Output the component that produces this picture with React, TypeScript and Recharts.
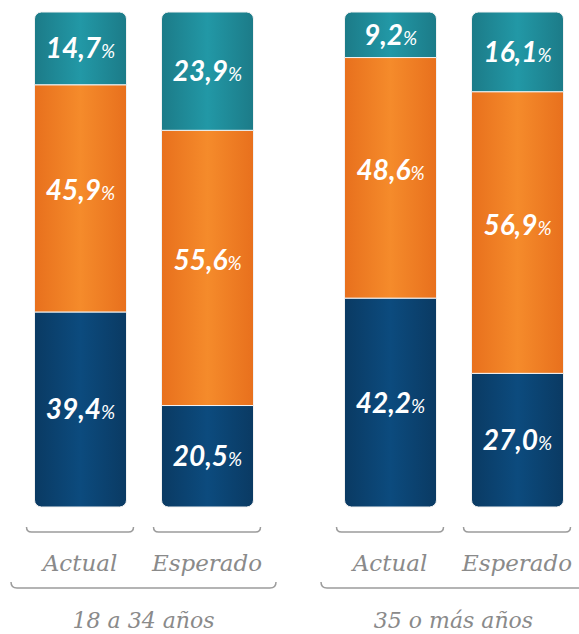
import React from "react";
import { BarChart, Bar, XAxis, YAxis, LabelList } from "recharts";

const groups = ["18 a 34 años", "35 o más años"];
const periods = ["Actual", "Esperado"];
const navyValues = [39.4, 20.5, 42.2, 27.0];
const orangeValues = [45.9, 55.6, 48.6, 56.9];
const tealValues = [14.7, 23.9, 9.2, 16.1];

const groupData = (g: number) =>
  periods.map((p, i) => ({
    period: p,
    navy: navyValues[g * 2 + i],
    orange: orangeValues[g * 2 + i],
    teal: tealValues[g * 2 + i],
  }));

const fmt = (v: number) => v.toFixed(1).replace(".", ",");

const makeValueLabel = (shift: number) => (props: any) => {
  const { x, y, width, height, value } = props;
  const cx = Number(x) + Number(width) / 2;
  const cy = Number(y) + Number(height) / 2;
  return (
    <text
      x={cx}
      y={cy + 10 + shift}
      textAnchor="middle"
      fill="#ffffff"
      fontFamily="Lato, 'Open Sans', sans-serif"
      fontStyle="italic"
    >
      <tspan fontWeight={700} fontSize={28}>
        {fmt(Number(value))}
      </tspan>
      <tspan fontWeight={400} fontSize={19}>
        %
      </tspan>
    </text>
  );
};

const GREY_TEXT = "#8a8a8a";
const GREY_LINE = "#9c9c9c";

const bracketPath = (x0: number, x1: number, yb: number, h: number) =>
  `M${x0},${yb - h} Q${x0},${yb} ${x0 + h},${yb} L${x1 - h},${yb} Q${x1},${yb} ${x1},${yb - h}`;

const PeriodTick = (props: any) => {
  const { x, y, payload } = props;
  const half = 53.5;
  return (
    <g>
      <path
        d={bracketPath(x - half, x + half, y + 25, 5)}
        fill="none"
        stroke={GREY_LINE}
        strokeWidth={1.5}
      />
      <text
        x={x}
        y={y + 64}
        textAnchor="middle"
        fill={GREY_TEXT}
        fontFamily="'DejaVu Serif', serif"
        fontStyle="italic"
        fontSize={23}
      >
        {payload.value}
      </text>
    </g>
  );
};

const makeGroupLabel = (label: string) => (props: any) => {
  const vb = props.viewBox || {};
  const x0 = vb.x - 5.5;
  const x1 = vb.x + vb.width + 5.5;
  const y = vb.y;
  const cx = (x0 + x1) / 2;
  return (
    <g>
      <path
        d={bracketPath(x0, x1, y + 81, 6)}
        fill="none"
        stroke={GREY_LINE}
        strokeWidth={1.5}
      />
      <text
        x={cx}
        y={y + 121}
        textAnchor="middle"
        fill={GREY_TEXT}
        fontFamily="'DejaVu Serif', serif"
        fontStyle="italic"
        fontSize={22}
      >
        {label}
      </text>
    </g>
  );
};

const Gradients = () => (
  <defs>
    <linearGradient id="gTeal" x1="0" y1="0" x2="1" y2="0">
      <stop offset="0%" stopColor="#1c7b88" />
      <stop offset="50%" stopColor="#2298a6" />
      <stop offset="100%" stopColor="#1c7b88" />
    </linearGradient>
    <linearGradient id="gOrange" x1="0" y1="0" x2="1" y2="0">
      <stop offset="0%" stopColor="#e8701d" />
      <stop offset="50%" stopColor="#f58b2b" />
      <stop offset="100%" stopColor="#e8701d" />
    </linearGradient>
    <linearGradient id="gNavy" x1="0" y1="0" x2="1" y2="0">
      <stop offset="0%" stopColor="#0a3a63" />
      <stop offset="50%" stopColor="#0c4b7e" />
      <stop offset="100%" stopColor="#0a3a63" />
    </linearGradient>
  </defs>
);

const GroupChart = ({
  g,
  left,
  width,
  marginLeft,
  marginRight,
}: {
  g: number;
  left: number;
  width: number;
  marginLeft: number;
  marginRight: number;
}) => (
  <div style={{ position: "absolute", left, top: 0, width, height: 634 }}>
    <BarChart
      width={width}
      height={634}
      data={groupData(g)}
      margin={{ top: 12, left: marginLeft, right: marginRight, bottom: 0 }}
      barSize={92}
    >
      <Gradients />
      <YAxis hide domain={[0, 100]} />
      <XAxis
        dataKey="period"
        height={127}
        axisLine={false}
        tickLine={false}
        tickSize={0}
        tickMargin={0}
        interval={0}
        tick={<PeriodTick />}
        label={{ value: groups[g], content: makeGroupLabel(groups[g]) }}
      />
      <Bar
        dataKey="navy"
        stackId="s"
        fill="url(#gNavy)"
        stroke="#f2f2f2"
        strokeWidth={1}
        radius={[0, 0, 7, 7]}
        isAnimationActive={false}
      >
        <LabelList dataKey="navy" content={makeValueLabel(0)} />
      </Bar>
      <Bar
        dataKey="orange"
        stackId="s"
        fill="url(#gOrange)"
        stroke="#f2f2f2"
        strokeWidth={1}
        isAnimationActive={false}
      >
        <LabelList dataKey="orange" content={makeValueLabel(-8)} />
      </Bar>
      <Bar
        dataKey="teal"
        stackId="s"
        fill="url(#gTeal)"
        stroke="#f2f2f2"
        strokeWidth={1}
        radius={[7, 7, 0, 0]}
        isAnimationActive={false}
      >
        <LabelList dataKey="teal" content={makeValueLabel(0)} />
      </Bar>
    </BarChart>
  </div>
);

export default function App() {
  return (
    <div
      style={{
        position: "absolute",
        left: 0,
        top: 0,
        width: 579,
        height: 634,
        overflow: "hidden",
        background: "#ffffff",
      }}
    >
      <GroupChart g={0} left={0} width={290} marginLeft={16.5} marginRight={19.5} />
      <GroupChart g={1} left={300} width={281} marginLeft={26.5} marginRight={0.5} />
    </div>
  );
}
